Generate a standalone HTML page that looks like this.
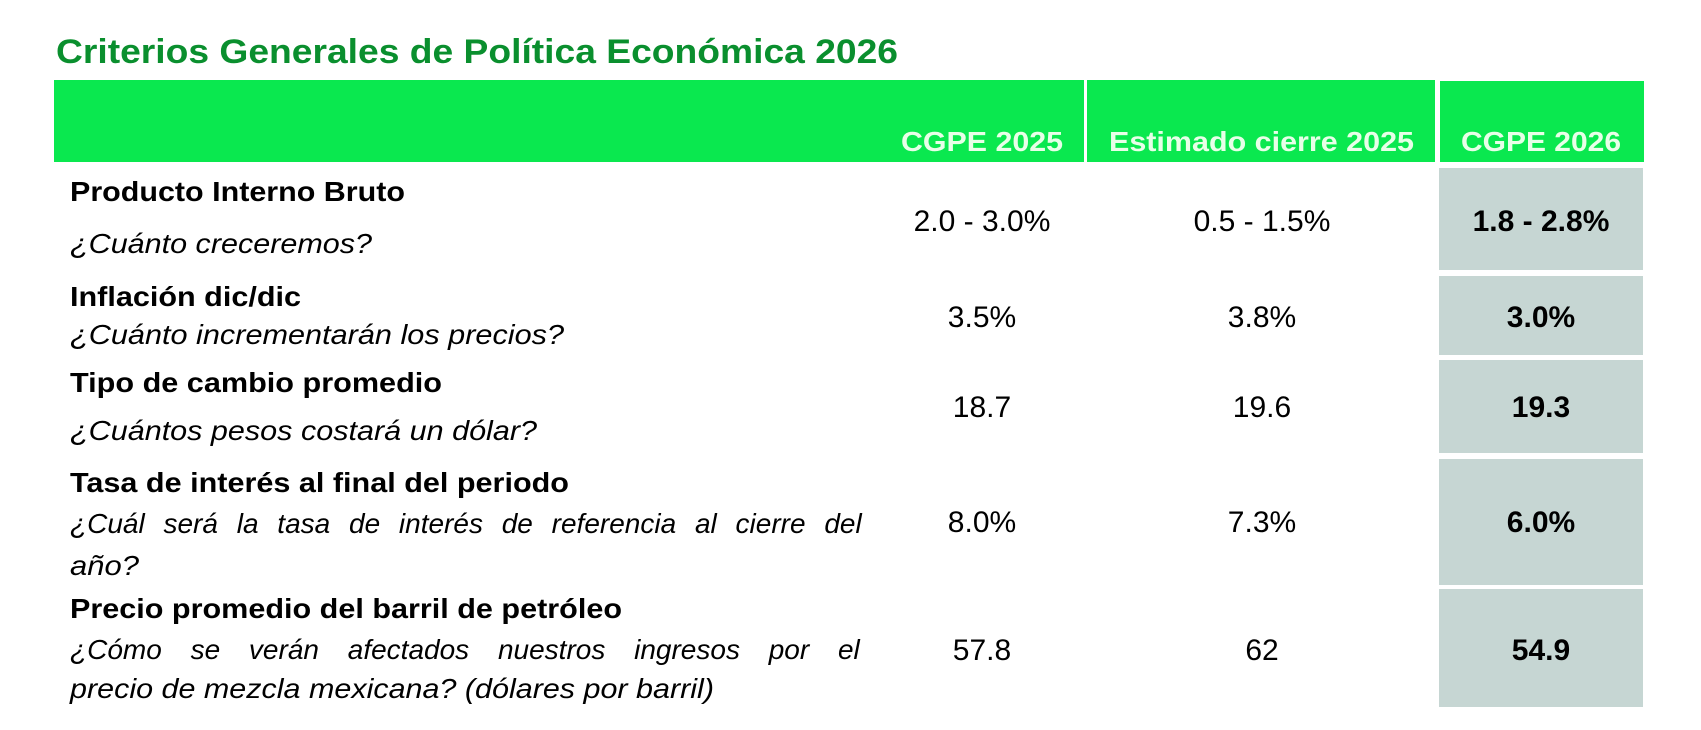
<!DOCTYPE html>
<html><head><meta charset="utf-8"><style>
html,body{margin:0;padding:0;background:#fff;}
svg{display:block;}
text{font-family:"Liberation Sans",Arial,sans-serif;}
.b{font-weight:bold;font-size:28px;fill:#000;}
.i{font-style:italic;font-size:28px;fill:#000;}
.v{font-size:30px;fill:#000;text-anchor:middle;}
.vb{font-size:30px;fill:#000;text-anchor:middle;font-weight:bold;}
.h{font-size:28px;fill:#e8ffe8;font-weight:bold;}
</style></head><body>
<svg width="1701" height="730" viewBox="0 0 1701 730" xmlns="http://www.w3.org/2000/svg">
<rect width="1701" height="730" fill="#fff"/>
<text x="56" y="63" font-size="34" font-weight="bold" fill="#0a8f2e" textLength="842" lengthAdjust="spacingAndGlyphs">Criterios Generales de Política Económica 2026</text>
<rect x="54" y="80" width="1030" height="82" fill="#0ae84f"/>
<rect x="1087" y="80" width="348" height="82" fill="#0ae84f"/>
<rect x="1440" y="81" width="204" height="81" fill="#0ae84f"/>
<text class="h" x="901" y="151" textLength="162" lengthAdjust="spacingAndGlyphs">CGPE 2025</text>
<text class="h" x="1109" y="151" textLength="305" lengthAdjust="spacingAndGlyphs">Estimado cierre 2025</text>
<text class="h" x="1461" y="151" textLength="160" lengthAdjust="spacingAndGlyphs">CGPE 2026</text>
<rect x="1439" y="168" width="204" height="102" fill="#c6d6d3"/>
<rect x="1439" y="276" width="204" height="79" fill="#c6d6d3"/>
<rect x="1439" y="360" width="204" height="93" fill="#c6d6d3"/>
<rect x="1439" y="459" width="204" height="126" fill="#c6d6d3"/>
<rect x="1439" y="589" width="204" height="118" fill="#c6d6d3"/>
<text class="b" x="70" y="201" textLength="335" lengthAdjust="spacingAndGlyphs">Producto Interno Bruto</text>
<text class="i" x="70" y="253" textLength="302" lengthAdjust="spacingAndGlyphs">¿Cuánto creceremos?</text>
<text class="v" x="982" y="231">2.0 - 3.0%</text>
<text class="v" x="1262" y="231">0.5 - 1.5%</text>
<text class="vb" x="1541" y="231">1.8 - 2.8%</text>
<text class="b" x="70" y="306" textLength="231" lengthAdjust="spacingAndGlyphs">Inflación dic/dic</text>
<text class="i" x="70" y="344" textLength="494" lengthAdjust="spacingAndGlyphs">¿Cuánto incrementarán los precios?</text>
<text class="v" x="982" y="327">3.5%</text>
<text class="v" x="1262" y="327">3.8%</text>
<text class="vb" x="1541" y="327">3.0%</text>
<text class="b" x="70" y="392" textLength="372" lengthAdjust="spacingAndGlyphs">Tipo de cambio promedio</text>
<text class="i" x="70" y="440" textLength="467" lengthAdjust="spacingAndGlyphs">¿Cuántos pesos costará un dólar?</text>
<text class="v" x="982" y="417">18.7</text>
<text class="v" x="1262" y="417">19.6</text>
<text class="vb" x="1541" y="417">19.3</text>
<text class="b" x="70" y="492" textLength="499" lengthAdjust="spacingAndGlyphs">Tasa de interés al final del periodo</text>
<text class="i" x="70" y="533" word-spacing="11">¿Cuál será la tasa de interés de referencia al cierre del</text>
<text class="i" x="70" y="575" textLength="69" lengthAdjust="spacingAndGlyphs">año?</text>
<text class="v" x="982" y="532">8.0%</text>
<text class="v" x="1262" y="532">7.3%</text>
<text class="vb" x="1541" y="532">6.0%</text>
<text class="b" x="70" y="618" textLength="552" lengthAdjust="spacingAndGlyphs">Precio promedio del barril de petróleo</text>
<text class="i" x="70" y="659" word-spacing="21">¿Cómo se verán afectados nuestros ingresos por el</text>
<text class="i" x="70" y="698" textLength="644" lengthAdjust="spacingAndGlyphs">precio de mezcla mexicana? (dólares por barril)</text>
<text class="v" x="982" y="660">57.8</text>
<text class="v" x="1262" y="660">62</text>
<text class="vb" x="1541" y="660">54.9</text>
</svg>
</body></html>
